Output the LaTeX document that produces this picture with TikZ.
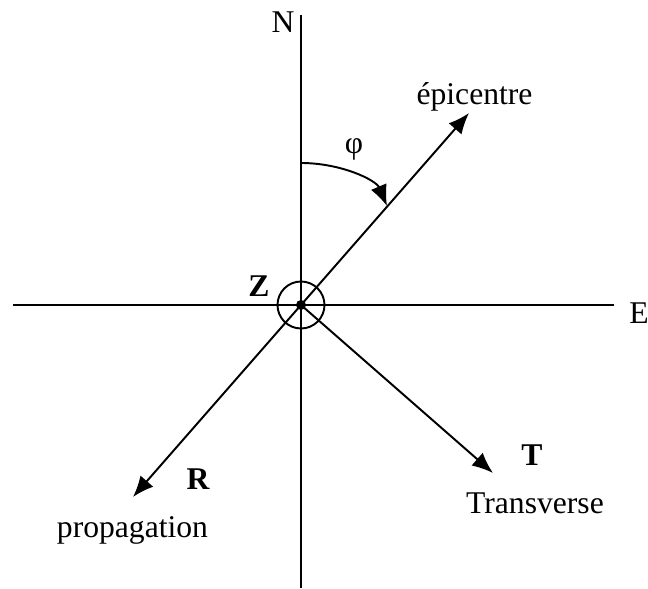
\documentclass[tikz,border=0pt]{standalone}
\usepackage{fontspec}
\setmainfont{Liberation Serif}
\usetikzlibrary{arrows.meta}
\tikzset{
    axe/.style={line width=1.1pt},
    fleche/.style={line width=1.1pt,-{Latex[length=0.42cm,width=0.34cm]}},
    lbl/.style={font=\fontsize{18}{22}\selectfont,inner sep=0pt,anchor=base},
    lblb/.style={lbl,font=\fontsize{18}{22}\selectfont\bfseries}
}
\begin{document}
\begin{tikzpicture}
        \useasboundingbox (-6.02,-5.68) rectangle (6.94,6.10);

        \coordinate (O) at (0,0);
        \coordinate (Nhaut) at (0,5.80);
        \coordinate (Nbas) at (0,-5.66);
        \coordinate (Ogauche) at (-5.76,0);
        \coordinate (Edroite) at (6.26,0);
        \coordinate (epi) at (3.36,3.84);
        \coordinate (Rbout) at (-3.36,-3.84);
        \coordinate (Tbout) at (3.84,-3.36);

        \draw[axe] (Nhaut) -- (Nbas);
        \draw[axe] (Ogauche) -- (Edroite);
        \draw[fleche] (O) -- (epi);
        \draw[fleche] (O) -- (Rbout);
        \draw[fleche] (O) -- (Tbout);

        \draw[axe] (O) circle (0.47);
        \fill (O) circle (0.1);

        % angle phi
        \coordinate (phidebut) at (0,2.84);
        \coordinate (phifin) at (1.72,1.98);
        \draw[fleche] (phidebut) .. controls (0.8,2.84) and (1.5,2.5) .. (phifin);

        \node[lbl] (N) at (-0.36,5.44) {N};
        \node[lbl,anchor=base west] (E) at (6.56,-0.38) {E};
        \node[lblb] (Z) at (-0.84,0.16) {Z};
        \node[lbl,anchor=center] (phi) at (1.06,3.12) {φ};
        \node[lbl] (epitexte) at (3.47,4.00) {épicentre};
        \node[lblb] (R) at (-2.06,-3.70) {R};
        \node[lblb] (T) at (4.62,-3.20) {T};
        \node[lbl] (prop) at (-3.37,-4.64) {propagation};
        \node[lbl] (trans) at (4.68,-4.16) {Transverse};
    \end{tikzpicture}
\end{document}
